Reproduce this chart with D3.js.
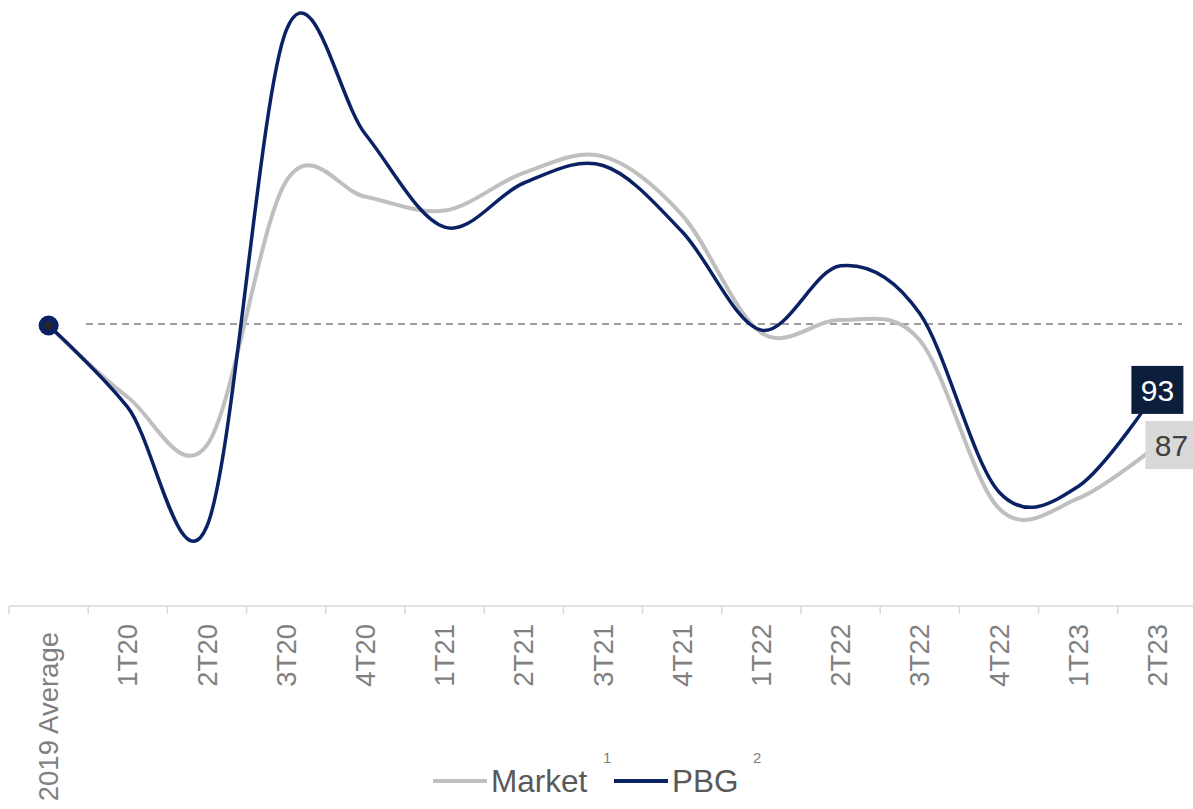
<!DOCTYPE html>
<html>
<head>
<meta charset="utf-8">
<script src="https://cdn.jsdelivr.net/npm/d3@7"></script>
<style>
  html, body { margin: 0; padding: 0; background: #ffffff; }
  svg { display: block; font-family: "Liberation Sans", Arial, sans-serif; }
</style>
</head>
<body>
<svg id="chart" width="1193" height="809"></svg>
<script>
// Quarterly index (2019 average = 100)
const categories = ["2019 Average", "1T20", "2T20", "3T20", "4T20", "1T21", "2T21", "3T21",
                    "4T21", "1T22", "2T22", "3T22", "4T22", "1T23", "2T23"];
const marketValues = [100, 92.2, 87.0, 115.7, 114.0, 112.5, 116.6, 118.4, 112.0, 99.2, 100.6, 98.4, 80.1, 81.2, 87];
const pbgValues    = [100, 91.1, 78.2, 132.1, 120.8, 110.7, 115.5, 117.4, 110.2, 99.5, 106.5, 101.3, 81.9, 82.5, 93];
const baselineValue = 100;
const seriesNames = ["Market", "PBG"];
const seriesNotes = ["1", "2"];

const colors = { market: "#bfbfbf", pbg: "#0a2264", pbgLabel: "#0b1f3d", marketLabel: "#d9d9d9" };

const svg = d3.select("#chart");

const x = d3.scaleBand().domain(categories).range([9, 1197]).padding(0);
const y = d3.scaleLinear().domain([69.5, 135.4]).range([606, 0]);
const cx = d => x(d) + x.bandwidth() / 2;

// Baseline reference (dashed)
svg.append("line")
  .attr("x1", 86).attr("x2", 1182)
  .attr("y1", y(baselineValue) - 1.5).attr("y2", y(baselineValue) - 1.5)
  .attr("stroke", "#7f7f7f").attr("stroke-width", 1.6)
  .attr("stroke-dasharray", "7,5");

// X axis: labels at band centres, ticks at band boundaries
const axisY = 606;
svg.append("line")
  .attr("x1", 9).attr("x2", 1193).attr("y1", axisY).attr("y2", axisY)
  .attr("stroke", "#d9d9d9").attr("stroke-width", 1.5);

svg.append("g").selectAll("line")
  .data(categories)
  .join("line")
  .attr("x1", d => x(d)).attr("x2", d => x(d))
  .attr("y1", axisY).attr("y2", axisY + 8)
  .attr("stroke", "#d9d9d9").attr("stroke-width", 1.5);

const xAxis = svg.append("g")
  .attr("transform", `translate(0,${axisY})`)
  .call(d3.axisBottom(x).tickSize(0).tickPadding(0));
xAxis.select(".domain").remove();
xAxis.selectAll("text")
  .attr("font-family", "'Liberation Sans', Arial, sans-serif")
  .attr("font-size", 27.5)
  .attr("fill", "#808080")
  .attr("text-anchor", "end")
  .attr("dy", "0.35em")
  .attr("transform", d => `translate(0,${d === categories[0] ? 26 : 18}) rotate(-90)`)
  .attr("x", 0).attr("y", 0);

// Lines
const line = d3.line()
  .x((d, i) => cx(categories[i]))
  .y(d => y(d))
  .curve(d3.curveCatmullRom.alpha(0));

svg.append("path")
  .datum(marketValues)
  .attr("fill", "none")
  .attr("stroke", colors.market)
  .attr("stroke-width", 4)
  .attr("stroke-linejoin", "round")
  .attr("d", line);

svg.append("path")
  .datum(pbgValues)
  .attr("fill", "none")
  .attr("stroke", colors.pbg)
  .attr("stroke-width", 3.5)
  .attr("stroke-linejoin", "round")
  .attr("d", line);

// Start marker
svg.append("circle")
  .attr("cx", cx(categories[0])).attr("cy", y(pbgValues[0]))
  .attr("r", 10).attr("fill", colors.pbg);
svg.append("circle")
  .attr("cx", cx(categories[0])).attr("cy", y(pbgValues[0]))
  .attr("r", 4.3).attr("fill", "#262626");

// End labels
const last = categories.length - 1;
function endLabel(value, dx, fill, textColor) {
  const lx = cx(categories[last]) + dx;
  const ly = y(value);
  svg.append("rect")
    .attr("x", lx - 26).attr("y", ly - 24)
    .attr("width", 52).attr("height", 48)
    .attr("fill", fill);
  svg.append("text")
    .attr("x", lx).attr("y", ly)
    .attr("dy", "0.36em")
    .attr("text-anchor", "middle")
    .attr("font-size", 30)
    .attr("fill", textColor)
    .text(d3.format("d")(value));
}
endLabel(marketValues[last], 14, colors.marketLabel, "#404040");
endLabel(pbgValues[last], 0, colors.pbgLabel, "#ffffff");

// Legend
const legend = svg.append("g");
const legendItems = [
  { name: seriesNames[0], note: seriesNotes[0], color: colors.market, x0: 433, tx: 491, nx: 603 },
  { name: seriesNames[1], note: seriesNotes[1], color: colors.pbg, x0: 614, tx: 672, nx: 753 }
];
legendItems.forEach(it => {
  legend.append("line")
    .attr("x1", it.x0).attr("x2", it.x0 + 54)
    .attr("y1", 781).attr("y2", 781)
    .attr("stroke", it.color).attr("stroke-width", 4);
  legend.append("text")
    .attr("x", it.tx).attr("y", 792)
    .attr("font-size", 31.5).attr("fill", "#595959")
    .text(it.name);
  legend.append("text")
    .attr("x", it.nx).attr("y", 763)
    .attr("font-size", 15).attr("fill", "#7f7f7f")
    .text(it.note);
});
</script>
</body>
</html>
